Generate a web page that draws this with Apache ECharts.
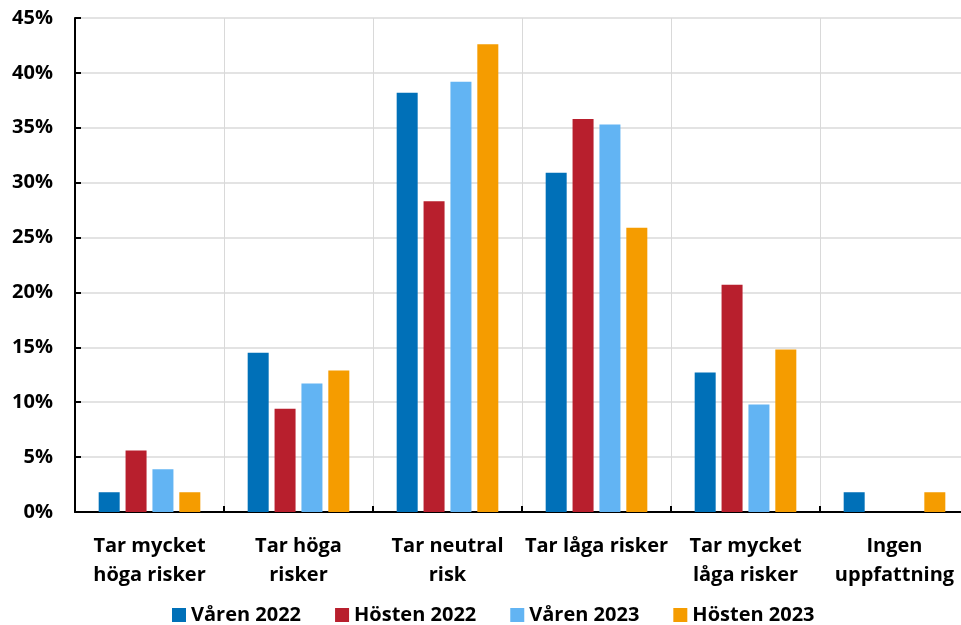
<!DOCTYPE html>
<html>
<head>
<meta charset="utf-8">
<script src="https://cdn.jsdelivr.net/npm/echarts@6/dist/echarts.min.js"></script>
<style>
html, body { margin: 0; padding: 0; background: #fff; overflow: hidden; }
#chart { width: 970px; height: 625px; }
</style>
</head>
<body>
<div id="chart"></div>
<script>
var categories = ['Tar mycket\nhöga risker', 'Tar höga\nrisker', 'Tar neutral\nrisk', 'Tar låga risker', 'Tar mycket\nlåga risker', 'Ingen\nuppfattning'];
var seriesNames = ['Våren 2022', 'Hösten 2022', 'Våren 2023', 'Hösten 2023'];
var colors = ['#0070B8', '#B81F2D', '#62B4F3', '#F59C00'];

var varen2022 = [1.8, 14.5, 38.2, 30.9, 12.7, 1.8];
var hosten2022 = [5.6, 9.4, 28.3, 35.8, 20.7, 0];
var varen2023 = [3.9, 11.7, 39.2, 35.3, 9.8, 0];
var hosten2023 = [1.8, 12.9, 42.6, 25.9, 14.8, 1.8];
var allData = [varen2022, hosten2022, varen2023, hosten2023];

var fontFam = '"Open Sans", sans-serif';

var series = [];
for (var i = 0; i < seriesNames.length; i++) {
    series.push({
        name: seriesNames[i],
        type: 'bar',
        barWidth: 21,
        barGap: '28%',
        itemStyle: { color: colors[i] },
        data: allData[i]
    });
}

var myChart = echarts.init(document.getElementById('chart'));
var option = {
    animation: false,
    textStyle: { fontFamily: fontFam },
    grid: { left: 75, top: 18, width: 894, height: 494 },
    legend: {
        bottom: -5,
        left: 167,
        itemWidth: 14,
        itemHeight: 14,
        itemGap: 34,
        icon: 'rect',
        textStyle: { fontSize: 20, fontWeight: 'bold', color: '#000', fontFamily: fontFam },
        data: seriesNames
    },
    xAxis: {
        type: 'category',
        data: categories,
        axisLine: { lineStyle: { color: '#000', width: 2 } },
        axisTick: { show: true, inside: true, length: 6, lineStyle: { color: '#000', width: 2 } },
        splitLine: { show: true, lineStyle: { color: '#d9d9d9', width: 1 } },
        axisLabel: {
            interval: 0,
            margin: 20,
            fontSize: 20,
            fontWeight: 'bold',
            color: '#000',
            lineHeight: 29,
            fontFamily: fontFam
        }
    },
    yAxis: {
        type: 'value',
        min: 0,
        max: 45,
        interval: 5,
        axisLine: { show: true, lineStyle: { color: '#000', width: 2 } },
        axisTick: { show: true, inside: true, length: 6, lineStyle: { color: '#000', width: 2 } },
        splitLine: { show: true, lineStyle: { color: '#e3e3e3', width: 2 } },
        axisLabel: {
            formatter: '{value}%',
            margin: 22,
            fontSize: 20,
            fontWeight: 'bold',
            color: '#000',
            fontFamily: fontFam
        }
    },
    series: series
};
myChart.setOption(option);
</script>
</body>
</html>
